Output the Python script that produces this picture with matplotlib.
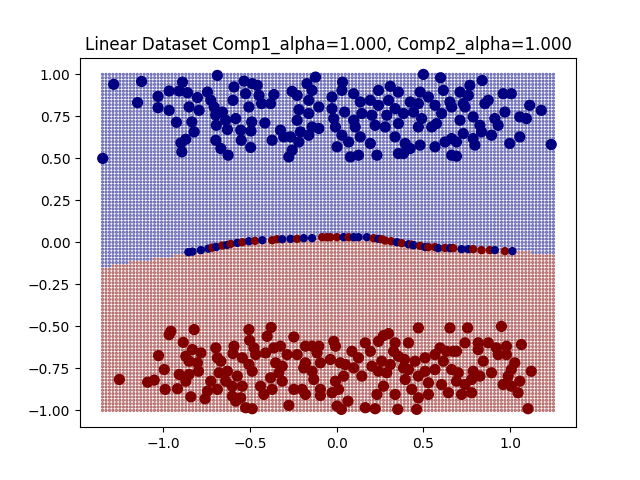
import matplotlib
matplotlib.use("Agg")
import matplotlib.pyplot as plt
import numpy as np

# class 0 (blue, upper band)
blue_x = [-1.286, -1.125, -1.148, -0.688, -1.349, -1.030, -1.030, -0.966, -0.966, -0.924,
          -0.889, -0.908, -0.860, -0.851, -0.822, -0.870, -0.898, -0.893, -0.803, -0.793,
          -0.835, -0.745, -0.726, -0.707, -0.697, -0.694, -0.697, -0.668, -0.626, -0.630,
          -0.640, -0.659, -0.592, -0.598, -0.582, -0.550, -0.553, -0.534, -0.487, -0.458,
          -0.525, -0.506, -0.490, -0.494, -0.496, -0.448, -0.433, -0.414, -0.362, -0.381,
          -0.372, -0.324, -0.305, -0.276, -0.257, -0.218, -0.257, -0.228, -0.171, -0.122,
          -0.142, -0.161, -0.218, -0.228, -0.161, -0.103, -0.142, -0.103, -0.209, -0.161,
          -0.266, 0.500, 0.599, 0.839, 0.034, 0.030, 0.098, -0.027, -0.027, 0.046,
          -0.017, -0.007, 0.030, 0.002, 0.079, 0.126, 0.069, 0.136, 0.107, 0.098,
          0.145, 0.136, 0.194, 0.241, 0.241, 0.203, 0.222, 0.194, 0.232, 0.280,
          0.289, 0.299, 0.309, 0.356, 0.337, 0.356, 0.337, 0.356, 0.385, 0.395,
          0.424, 0.385, 0.424, 0.481, 0.471, 0.443, 0.490, 0.471, 0.481, 0.529,
          0.567, 0.615, 0.605, 0.548, 0.576, 0.567, 0.625, 0.663, 0.663, 0.691,
          0.691, 0.663, 0.653, 0.711, 0.730, 0.711, 0.730, 0.768, 0.759, 0.740,
          0.787, 0.787, 0.797, 0.855, 0.874, 0.826, 0.835, 0.893, 0.912, 0.931,
          0.960, 1.007, 0.970, 1.056, 1.094, 1.113, 1.180, 0.998, 1.056, 1.237]
blue_y = [0.941, 0.958, 0.832, 0.994, 0.500, 0.869, 0.802, 0.901, 0.786, 0.715,
          0.954, 0.901, 0.891, 0.806, 0.658, 0.614, 0.592, 0.539, 0.862, 0.786,
          0.717, 0.895, 0.846, 0.806, 0.757, 0.697, 0.608, 0.559, 0.519, 0.672,
          0.727, 0.776, 0.925, 0.846, 0.737, 0.608, 0.668, 0.960, 0.945, 0.935,
          0.885, 0.806, 0.717, 0.663, 0.565, 0.875, 0.826, 0.711, 0.880, 0.826,
          0.608, 0.668, 0.628, 0.509, 0.549, 0.598, 0.899, 0.875, 0.945, 0.984,
          0.905, 0.846, 0.790, 0.727, 0.767, 0.806, 0.687, 0.678, 0.658, 0.638,
          0.628, 1.000, 0.980, 0.964, 0.954, 0.905, 0.885, 0.865, 0.796, 0.776,
          0.737, 0.687, 0.638, 0.569, 0.509, 0.519, 0.598, 0.628, 0.687, 0.727,
          0.767, 0.836, 0.846, 0.905, 0.816, 0.757, 0.697, 0.589, 0.519, 0.687,
          0.757, 0.846, 0.929, 0.895, 0.796, 0.707, 0.628, 0.529, 0.529, 0.589,
          0.559, 0.767, 0.836, 0.895, 0.826, 0.776, 0.737, 0.687, 0.579, 0.865,
          0.816, 0.905, 0.767, 0.687, 0.707, 0.569, 0.598, 0.618, 0.519, 0.513,
          0.598, 0.806, 0.836, 0.895, 0.826, 0.727, 0.648, 0.935, 0.875, 0.806,
          0.747, 0.618, 0.579, 0.826, 0.846, 0.697, 0.658, 0.638, 0.737, 0.697,
          0.885, 0.885, 0.776, 0.747, 0.737, 0.816, 0.786, 0.589, 0.628, 0.583]

# class 1 (red, lower band)
red_x = [-1.253, -0.966, -0.956, -0.822, -0.885, -1.027, -0.994, -1.090, -1.052, -0.989,
         -0.908, -0.851, -0.870, -0.918, -0.870, -0.832, -0.783, -0.851, -0.803, -0.797,
         -0.841, -0.726, -0.745, -0.759, -0.697, -0.688, -0.668, -0.678, -0.630, -0.688,
         -0.640, -0.602, -0.592, -0.598, -0.544, -0.573, -0.602, -0.582, -0.544, -0.553,
         -0.525, -0.487, -0.506, -0.502, -0.477, -0.467, -0.506, -0.487, -0.439, -0.420,
         -0.401, -0.378, -0.410, -0.362, -0.324, -0.352, -0.314, -0.381, -0.333, -0.372,
         -0.314, -0.276, -0.286, -0.247, -0.228, -0.180, -0.142, -0.103, -0.113, -0.180,
         -0.190, -0.142, -0.094, -0.132, -0.247, -0.199, -0.180, -0.094, -0.094, 0.471,
         0.653, 0.755, 0.950, -0.017, -0.007, -0.036, 0.021, 0.040, -0.007, -0.027,
         0.011, 0.002, 0.027, 0.065, 0.088, 0.050, 0.098, 0.126, 0.145, 0.165,
         0.194, 0.241, 0.270, 0.299, 0.203, 0.260, 0.241, 0.289, 0.309, 0.270,
         0.232, 0.165, 0.222, 0.337, 0.328, 0.356, 0.391, 0.385, 0.414, 0.395,
         0.433, 0.471, 0.461, 0.352, 0.337, 0.414, 0.452, 0.471, 0.510, 0.510,
         0.529, 0.529, 0.567, 0.567, 0.596, 0.605, 0.615, 0.634, 0.644, 0.663,
         0.672, 0.691, 0.691, 0.701, 0.720, 0.740, 0.740, 0.778, 0.778, 0.787,
         0.816, 0.816, 0.826, 0.845, 0.874, 0.893, 0.921, 0.931, 0.979, 0.979,
         0.960, 0.989, 1.007, 1.027, 1.007, 1.056, 1.046, 1.065, 1.122, 1.103]
red_y = [-0.816, -0.549, -0.529, -0.519, -0.595, -0.674, -0.757, -0.832, -0.820, -0.875,
         -0.786, -0.786, -0.826, -0.871, -0.678, -0.638, -0.658, -0.707, -0.717, -0.767,
         -0.919, -0.826, -0.885, -0.931, -0.628, -0.687, -0.707, -0.776, -0.767, -0.875,
         -0.826, -0.856, -0.618, -0.662, -0.687, -0.796, -0.915, -0.945, -0.856, -0.925,
         -0.984, -0.990, -0.519, -0.583, -0.628, -0.668, -0.727, -0.767, -0.856, -0.905,
         -0.559, -0.506, -0.658, -0.628, -0.618, -0.717, -0.737, -0.806, -0.776, -0.875,
         -0.826, -0.970, -0.668, -0.563, -0.668, -0.618, -0.618, -0.618, -0.658, -0.717,
         -0.747, -0.767, -0.717, -0.816, -0.875, -0.875, -0.905, -0.875, -0.911, -0.509,
         -0.509, -0.509, -0.500, -0.589, -0.618, -0.697, -0.717, -0.796, -0.826, -0.895,
         -0.875, -0.974, -0.994, -0.945, -0.648, -0.727, -0.747, -0.687, -0.796, -0.598,
         -0.648, -0.589, -0.555, -0.543, -0.737, -0.707, -0.767, -0.776, -0.727, -0.856,
         -0.905, -0.984, -0.990, -0.598, -0.648, -0.678, -0.697, -0.747, -0.757, -0.816,
         -0.875, -0.925, -0.994, -0.994, -0.905, -0.598, -0.707, -0.796, -0.687, -0.767,
         -0.836, -0.905, -0.668, -0.757, -0.628, -0.846, -0.707, -0.648, -0.895, -0.757,
         -0.648, -0.648, -0.826, -0.776, -0.905, -0.598, -0.846, -0.895, -0.816, -0.767,
         -0.598, -0.638, -0.796, -0.707, -0.598, -0.776, -0.628, -0.668, -0.618, -0.668,
         -0.846, -0.796, -0.757, -0.717, -0.856, -0.826, -0.895, -0.608, -0.767, -0.990]

# points lying on the decision boundary, with their class
edge_x = [-0.855, -0.832, -0.783, -0.740, -0.717, -0.694, -0.659, -0.632, -0.611, -0.573,
          -0.544, -0.506, -0.471, -0.429, -0.372, -0.343, -0.314, -0.266, -0.228, -0.190,
          -0.142, -0.084, -0.056, -0.036, 0.002, 0.040, 0.069, 0.098, 0.126, 0.174,
          0.213, 0.241, 0.260, 0.280, 0.314, 0.347, 0.375, 0.414, 0.433, 0.443,
          0.481, 0.510, 0.529, 0.567, 0.586, 0.625, 0.653, 0.672, 0.720, 0.759,
          0.787, 0.835, 0.883, 0.912, 0.970, 1.013]
edge_y = [-0.058, -0.055, -0.046, -0.037, -0.031, -0.027, -0.019, -0.015, -0.009, -0.003,
          0.001, 0.007, 0.009, 0.013, 0.013, 0.019, 0.019, 0.021, 0.021, 0.025,
          0.025, 0.031, 0.031, 0.031, 0.031, 0.031, 0.031, 0.031, 0.031, 0.031,
          0.025, 0.021, 0.019, 0.011, 0.007, 0.001, -0.005, -0.011, -0.013, -0.017,
          -0.021, -0.028, -0.028, -0.028, -0.034, -0.033, -0.034, -0.034, -0.040, -0.040,
          -0.040, -0.046, -0.046, -0.046, -0.052, -0.052]
edge_c = [0, 0, 0, 0, 1, 0, 1, 0, 1, 0,
          1, 0, 1, 0, 1, 1, 0, 0, 1, 0,
          0, 1, 1, 1, 1, 0, 1, 0, 0, 0,
          1, 0, 1, 1, 1, 0, 1, 0, 1, 0,
          1, 0, 1, 1, 0, 1, 0, 1, 0, 0,
          1, 1, 1, 0, 1, 0]

# decision boundary of the classifier
bnd_x = [-1.35, -1.2, -1.0, -0.9, -0.8, -0.7, -0.5, -0.3, 0.0, 0.2, 0.3, 0.4, 0.6, 0.8, 1.0, 1.25]
bnd_y = [-0.15, -0.12, -0.09, -0.07, -0.05, -0.03, 0.003, 0.02, 0.03, 0.025, 0.0, -0.015, -0.03, -0.045, -0.055, -0.065]

h = 0.02
xx, yy = np.meshgrid(np.arange(-1.35, 1.25 + h / 2, h), np.arange(-1.0, 1.0 + h / 2, h))
zz = (yy < np.interp(xx, bnd_x, bnd_y)).astype(int)

fig = plt.figure(figsize=(6.4, 4.8), dpi=100)
plt.scatter(xx.ravel(), yy.ravel(), c=zz.ravel(), cmap='jet', s=3, alpha=0.45, linewidths=0.6)
plt.scatter(blue_x + red_x, blue_y + red_y, c=[0] * len(blue_x) + [1] * len(red_x),
            cmap='jet', s=50)
plt.scatter(edge_x, edge_y, c=edge_c, cmap='jet', s=25)
plt.title("Linear Dataset Comp1_alpha=1.000, Comp2_alpha=1.000")
plt.savefig("out.png")
